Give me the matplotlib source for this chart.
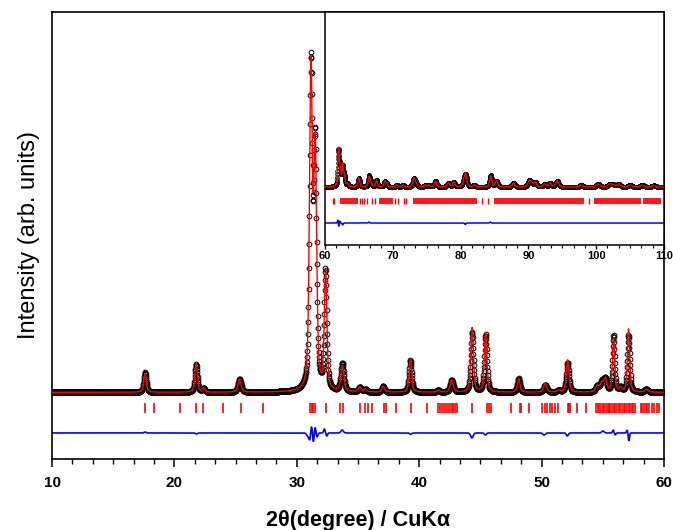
import numpy as np
import matplotlib
matplotlib.use("Agg")
import matplotlib.pyplot as plt
from matplotlib.ticker import MultipleLocator, AutoMinorLocator

plt.rcParams["font.family"] = ["Liberation Sans", "DejaVu Sans"]

# ---- data (counts, arbitrary scale) ---------------------------------------
BACKGROUND = 2000
STEP = 0.02

# main pattern, 10-60 deg
MAIN_PEAK_POS = [17.60, 21.78, 22.40, 25.32, 31.15, 31.50, 32.35, 33.72, 35.15,
                 35.60, 37.05, 39.28, 41.55, 42.65, 44.32, 45.42, 48.12, 50.28,
                 51.40, 52.12, 54.55, 54.90, 55.20, 55.88, 56.45, 57.10, 58.55]
MAIN_PEAK_HGT = [570, 870, 120, 390, 9550, 7050, 3550, 760, 150,
                 80, 180, 1000, 60, 360, 1930, 1780, 410, 260,
                 60, 970, 180, 250, 380, 1620, 120, 1890, 90]
MAIN_PEAK_FWHM = [0.25, 0.25, 0.20, 0.30, 0.28, 0.28, 0.25, 0.30, 0.25,
                  0.25, 0.25, 0.25, 0.25, 0.30, 0.25, 0.25, 0.25, 0.30,
                  0.30, 0.25, 0.30, 0.30, 0.30, 0.22, 0.25, 0.22, 0.30]

# obs - calc features (position, amplitude, width)
MAIN_DIFF_POS = [17.60, 21.80, 30.90, 31.05, 31.20, 31.35, 31.50, 31.65, 32.25,
                 32.45, 33.70, 39.30, 44.30, 45.40, 50.20, 52.10, 55.00, 55.85,
                 56.00, 57.00, 57.12]
MAIN_DIFF_AMP = [30, -30, -90, -180, 210, -270, 180, -120, 120,
                 -90, 90, -40, -150, -60, -60, -90, 60, 90,
                 -60, 90, -240]
MAIN_DIFF_W = [0.08, 0.08, 0.10, 0.07, 0.06, 0.06, 0.06, 0.07, 0.06,
               0.06, 0.10, 0.08, 0.10, 0.08, 0.10, 0.08, 0.10, 0.06,
               0.06, 0.06, 0.05]

MAIN_REFLECTIONS = [17.63, 18.33, 20.46, 21.77, 22.30, 23.95, 25.40, 27.20,
                    31.10, 31.20, 31.30, 31.45, 32.35, 33.55, 33.75, 35.16,
                    35.60, 35.85, 36.10, 37.10, 37.30, 38.10, 39.35, 40.65,
                    41.55, 41.70, 41.85, 42.00, 42.15, 42.35, 42.50, 42.65,
                    42.75, 42.90, 43.05, 44.35, 45.50, 45.70, 45.90, 47.50,
                    48.20, 48.35, 49.00, 50.05, 50.25, 50.45, 50.65, 50.85,
                    51.10, 51.35, 52.15, 52.25, 52.35, 52.90, 53.60, 54.45,
                    54.60, 54.70, 54.85, 55.00, 55.10, 55.25, 55.40, 55.50,
                    55.60, 55.75, 55.90, 56.00, 56.15, 56.30, 56.40, 56.55,
                    56.70, 56.80, 56.95, 57.10, 57.20, 57.35, 57.50, 57.60,
                    58.10, 58.20, 58.35, 58.50, 58.60, 58.80, 59.00, 59.20,
                    59.40, 59.60]

# inset, 60-110 deg
INSET_PEAK_POS = [62.00, 62.25, 62.60, 62.85, 63.30, 65.00, 66.50, 66.75, 67.60,
                  68.80, 69.05, 70.60, 71.50, 73.10, 73.40, 74.80, 75.30, 76.30,
                  78.20, 79.00, 80.50, 80.75, 82.00, 84.45, 85.30, 87.80, 90.10,
                  90.40, 91.00, 92.40, 93.20, 94.25, 97.80, 100.30, 102.00,
                  102.50, 103.30, 105.00, 106.80, 108.50]
INSET_PEAK_HGT = [1120, 450, 640, 300, 90, 270, 290, 140, 210,
                  150, 110, 60, 60, 260, 110, 60, 60, 180,
                  120, 150, 150, 370, 60, 320, 180, 120, 150,
                  120, 150, 90, 120, 180, 60, 90, 90,
                  60, 90, 60, 60, 45]
INSET_PEAK_FWHM = [0.25, 0.25, 0.25, 0.25, 0.30, 0.30, 0.30, 0.30, 0.30,
                   0.30, 0.30, 0.35, 0.35, 0.35, 0.35, 0.35, 0.35, 0.40,
                   0.40, 0.40, 0.40, 0.40, 0.40, 0.40, 0.40, 0.45, 0.45,
                   0.45, 0.45, 0.45, 0.45, 0.50, 0.50, 0.55, 0.55,
                   0.55, 0.55, 0.60, 0.60, 0.60]

INSET_DIFF_POS = [61.90, 62.05, 62.20, 62.60, 66.50, 80.70, 84.40]
INSET_DIFF_AMP = [90, -100, 60, -60, 30, -45, 30]
INSET_DIFF_W = [0.06, 0.06, 0.06, 0.06, 0.08, 0.08, 0.08]

INSET_SINGLE_REFL = [61.20, 61.35, 65.20, 65.50, 65.80, 66.20, 66.90, 67.40,
                     70.30, 70.80, 71.60, 72.00, 83.10, 84.00, 98.90]
# overlapping reflections that merge into solid bands at this scale
INSET_BAND_START = [62.20, 68.00, 73.00, 84.90, 99.70, 106.85]
INSET_BAND_END = [64.90, 70.10, 82.40, 98.20, 106.60, 109.50]


def pseudo_voigt(x, pos, hgt, fwhm, eta=0.5):
    y = np.zeros_like(x)
    for p, h, w in zip(pos, hgt, fwhm):
        d = (x - p) / w
        lor = 1.0 / (1.0 + 4.0 * d ** 2)
        gau = np.exp(-4.0 * np.log(2.0) * d ** 2)
        y += h * (eta * lor + (1.0 - eta) * gau)
    return y


def residual(x, pos, amp, width):
    y = np.zeros_like(x)
    for p, a, w in zip(pos, amp, width):
        y += a * np.exp(-0.5 * ((x - p) / w) ** 2)
    return y


def draw_pattern(ax, x, calc, diff, ms, mew):
    obs = calc + diff
    ax.plot(x, obs, "o", mfc="none", mec="black", ms=ms, mew=mew, zorder=2)
    ax.plot(x, calc, color="red", lw=1.0, zorder=3)
    return obs


fig = plt.figure(figsize=(6.73, 5.30), dpi=100)

# ---- main panel -----------------------------------------------------------
ax = fig.add_axes([0.0773, 0.134, 0.9094, 0.8434])
x_main = np.arange(10.0, 60.0 + STEP / 2, STEP)
calc_main = BACKGROUND + pseudo_voigt(x_main, MAIN_PEAK_POS, MAIN_PEAK_HGT, MAIN_PEAK_FWHM)
diff_main = residual(x_main, MAIN_DIFF_POS, MAIN_DIFF_AMP, MAIN_DIFF_W)
draw_pattern(ax, x_main, calc_main, diff_main, ms=3.4, mew=0.7)
ax.vlines(MAIN_REFLECTIONS, 1390, 1690, color="red", lw=1.2)
ax.plot(x_main, 780 + diff_main, color="blue", lw=1.2)

ax.set_xlim(10, 60)
ax.set_ylim(0, 13410)
ax.set_yticks([])
ax.xaxis.set_major_locator(MultipleLocator(10))
ax.xaxis.set_minor_locator(AutoMinorLocator(6))
ax.tick_params(axis="x", which="major", direction="out", length=6, width=1.1,
               labelsize=11, pad=6)
ax.tick_params(axis="x", which="minor", direction="out", length=3.5, width=1.0)
for lab in ax.get_xticklabels():
    lab.set_fontweight("bold")
for sp in ax.spines.values():
    sp.set_linewidth(1.2)
ax.set_xlabel("2θ(degree) / CuKα", fontsize=15.5, fontweight="bold", labelpad=15)
ax.set_ylabel("Intensity (arb. units)", fontsize=17, labelpad=9)

# ---- inset: high-angle part ------------------------------------------------
axi = fig.add_axes([0.4829, 0.5377, 0.5037, 0.4396])
axi.set_facecolor("white")
x_in = np.arange(60.0, 110.0 + STEP / 2, STEP)
calc_in = BACKGROUND + pseudo_voigt(x_in, INSET_PEAK_POS, INSET_PEAK_HGT, INSET_PEAK_FWHM)
diff_in = residual(x_in, INSET_DIFF_POS, INSET_DIFF_AMP, INSET_DIFF_W)
draw_pattern(axi, x_in, calc_in, diff_in, ms=2.6, mew=0.6)
axi.vlines(INSET_SINGLE_REFL, 1490, 1670, color="red", lw=1.0)
axi.broken_barh([(s, e - s) for s, e in zip(INSET_BAND_START, INSET_BAND_END)],
                (1490, 180), facecolor="red", edgecolor="none", alpha=0.9)
axi.plot(x_in, 920 + diff_in, color="blue", lw=1.1)

axi.set_xlim(60, 110)
axi.set_ylim(260, 7250)
axi.set_yticks([])
axi.xaxis.set_major_locator(MultipleLocator(10))
axi.xaxis.set_minor_locator(AutoMinorLocator(6))
axi.tick_params(axis="x", which="major", direction="out", length=3, width=1.0,
                labelsize=8, pad=1.5)
axi.tick_params(axis="x", which="minor", direction="out", length=2, width=0.8)
for lab in axi.get_xticklabels():
    lab.set_fontweight("bold")
for sp in axi.spines.values():
    sp.set_linewidth(1.1)

fig.savefig("out.png", dpi=100)
plt.close(fig)
